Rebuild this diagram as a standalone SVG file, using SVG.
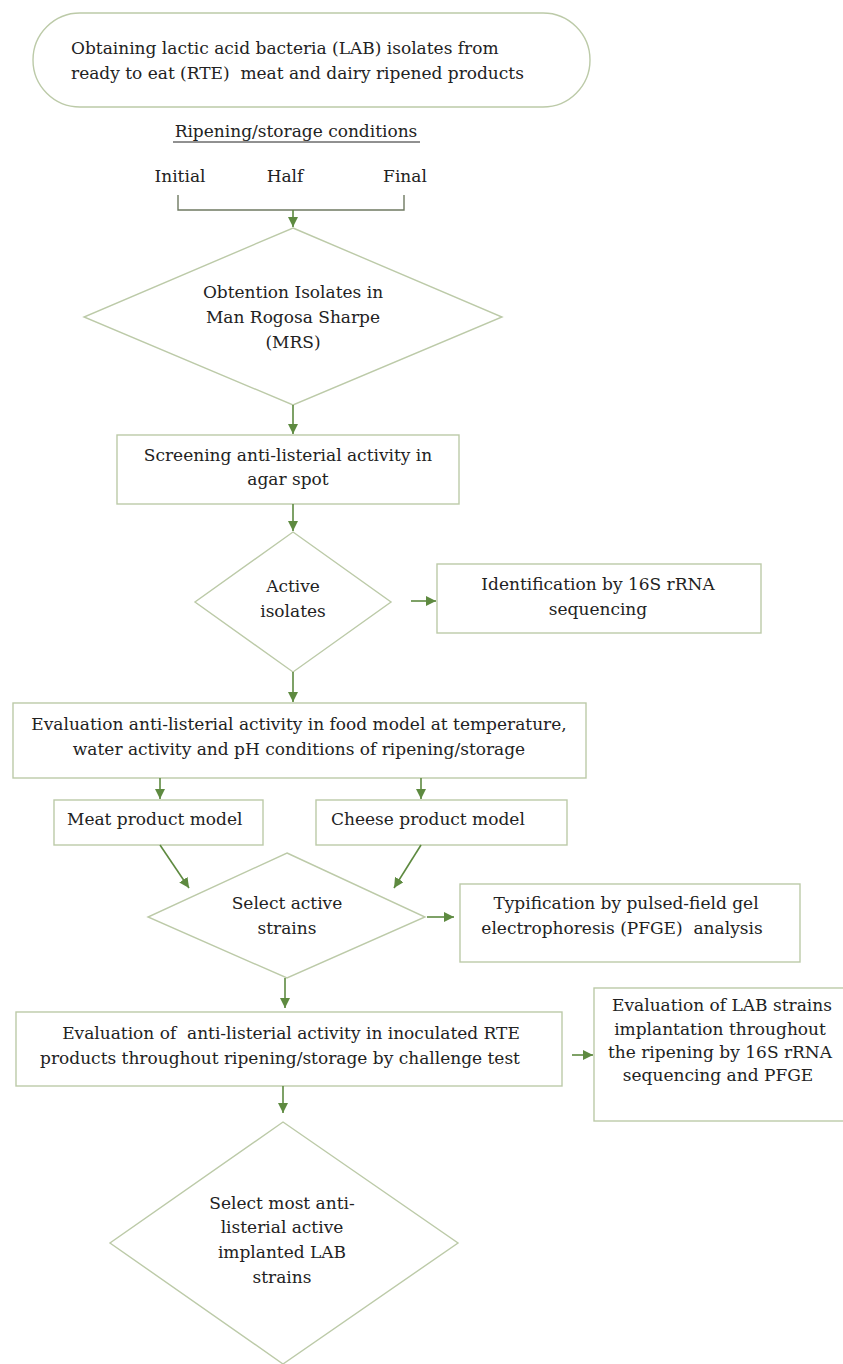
<svg xmlns="http://www.w3.org/2000/svg" width="843" height="1364" viewBox="0 0 843 1364">
  <style>
    .shape { fill: #ffffff; stroke: #bccaa8; stroke-width: 1.4; }
    .conn { fill: none; stroke: #5e8a40; stroke-width: 1.6; }
    .bracket { fill: none; stroke: #6f7a62; stroke-width: 1.4; }
    text { font-family: "DejaVu Serif", "Liberation Serif", serif; font-size: 17px; fill: #222222; }
    .c { text-anchor: middle; }
  </style>
  <defs>
    <marker id="arrow" markerUnits="userSpaceOnUse" markerWidth="11" markerHeight="10" refX="10" refY="5" orient="auto">
      <path d="M0,0 L10,5 L0,10 z" fill="#5e8a40"/>
    </marker>
  </defs>
  <rect width="843" height="1364" fill="#ffffff"/>

  <!-- start node -->
  <g id="start">
    <rect class="shape" x="33" y="13" width="557" height="94" rx="47" ry="47"/>
    <text x="71" y="54">Obtaining lactic acid bacteria (LAB) isolates from</text>
    <text x="71" y="79" xml:space="preserve">ready to eat (RTE)  meat and dairy ripened products</text>
  </g>

  <!-- sampling points -->
  <g id="conditions">
    <text class="c" x="296" y="137">Ripening/storage conditions</text>
    <line x1="173" y1="142" x2="420" y2="142" stroke="#222222" stroke-width="1"/>
    <text class="c" x="180" y="182">Initial</text>
    <text class="c" x="285" y="182">Half</text>
    <text class="c" x="405" y="182">Final</text>
  </g>

  <g id="isolation">
    <polygon class="shape" points="293,228 502,317 293,405 84,317"/>
    <text class="c" x="293" y="298">Obtention Isolates in</text>
    <text class="c" x="293" y="323">Man Rogosa Sharpe</text>
    <text class="c" x="293" y="348">(MRS)</text>
  </g>

  <g id="screening">
    <rect class="shape" x="117" y="435" width="342" height="69"/>
    <text class="c" x="288" y="461">Screening anti-listerial activity in</text>
    <text class="c" x="288" y="485">agar spot</text>
  </g>

  <g id="active-isolates">
    <polygon class="shape" points="293,532 391,602 293,672 195,602"/>
    <text class="c" x="293" y="592">Active</text>
    <text class="c" x="293" y="617">isolates</text>
  </g>

  <g id="identification">
    <rect class="shape" x="437" y="564" width="324" height="69"/>
    <text class="c" x="598" y="590">Identification by 16S rRNA</text>
    <text class="c" x="598" y="615">sequencing</text>
  </g>

  <g id="food-model">
    <rect class="shape" x="13" y="703" width="573" height="75"/>
    <text class="c" x="299" y="730">Evaluation anti-listerial activity in food model at temperature,</text>
    <text class="c" x="299" y="755">water activity and pH conditions of ripening/storage</text>
  </g>

  <g id="meat-model">
    <rect class="shape" x="54" y="800" width="209" height="45"/>
    <text x="67" y="825">Meat product model</text>
  </g>

  <g id="cheese-model">
    <rect class="shape" x="316" y="800" width="251" height="45"/>
    <text x="331" y="825">Cheese product model</text>
  </g>

  <g id="select-strains">
    <polygon class="shape" points="287,853 425,917 287,978 148,917"/>
    <text class="c" x="287" y="909">Select active</text>
    <text class="c" x="287" y="934">strains</text>
  </g>

  <g id="typification">
    <rect class="shape" x="460" y="884" width="340" height="78"/>
    <text class="c" x="626" y="909">Typification by pulsed-field gel</text>
    <text class="c" x="622" y="934" xml:space="preserve">electrophoresis (PFGE)  analysis</text>
  </g>

  <g id="challenge-test">
    <rect class="shape" x="16" y="1012" width="546" height="74"/>
    <text class="c" x="291" y="1039" xml:space="preserve">Evaluation of  anti-listerial activity in inoculated RTE</text>
    <text class="c" x="280" y="1064">products throughout ripening/storage by challenge test</text>
  </g>

  <g id="implantation">
    <rect class="shape" x="594" y="988" width="260" height="133"/>
    <text class="c" x="722" y="1011">Evaluation of LAB strains</text>
    <text class="c" x="720" y="1035">implantation throughout</text>
    <text class="c" x="720" y="1058">the ripening by 16S rRNA</text>
    <text class="c" x="718" y="1081">sequencing and PFGE</text>
  </g>

  <g id="final-selection">
    <polygon class="shape" points="283,1122 458,1243 283,1364 110,1243"/>
    <text class="c" x="282" y="1209">Select most anti-</text>
    <text class="c" x="282" y="1233">listerial active</text>
    <text class="c" x="282" y="1258">implanted LAB</text>
    <text class="c" x="282" y="1283">strains</text>
  </g>

  <!-- connectors -->
  <g id="connectors">
    <path class="bracket" d="M178,195 V210 H404 V195"/>
    <line class="conn" x1="293" y1="210" x2="293" y2="227" marker-end="url(#arrow)"/>
    <line class="conn" x1="293" y1="405" x2="293" y2="434" marker-end="url(#arrow)"/>
    <line class="conn" x1="293" y1="504" x2="293" y2="531" marker-end="url(#arrow)"/>
    <line class="conn" x1="411" y1="601" x2="436" y2="601" marker-end="url(#arrow)"/>
    <line class="conn" x1="293" y1="672" x2="293" y2="702" marker-end="url(#arrow)"/>
    <line class="conn" x1="160" y1="778" x2="160" y2="799" marker-end="url(#arrow)"/>
    <line class="conn" x1="421" y1="778" x2="421" y2="799" marker-end="url(#arrow)"/>
    <line class="conn" x1="160" y1="845" x2="189" y2="888" marker-end="url(#arrow)"/>
    <line class="conn" x1="421" y1="845" x2="394" y2="888" marker-end="url(#arrow)"/>
    <line class="conn" x1="427" y1="917" x2="454" y2="917" marker-end="url(#arrow)"/>
    <line class="conn" x1="285" y1="978" x2="285" y2="1008" marker-end="url(#arrow)"/>
    <line class="conn" x1="572" y1="1055" x2="593" y2="1055" marker-end="url(#arrow)"/>
    <line class="conn" x1="283" y1="1086" x2="283" y2="1113" marker-end="url(#arrow)"/>
  </g>
</svg>
